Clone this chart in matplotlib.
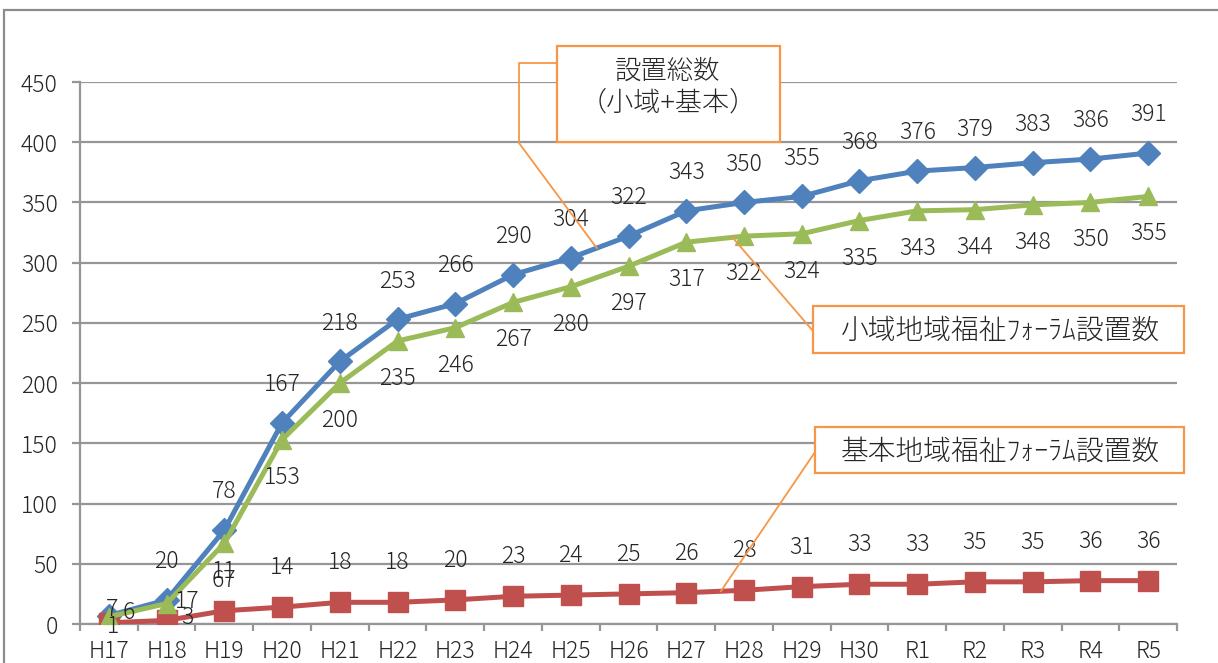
import matplotlib
matplotlib.use("Agg")
import matplotlib.pyplot as plt
import numpy as np
from matplotlib.patches import Rectangle
from matplotlib.lines import Line2D

plt.rcParams['font.family'] = ['Noto Sans CJK JP', 'DejaVu Sans']
plt.rcParams['font.weight'] = 'light'

categories = ["H17", "H18", "H19", "H20", "H21", "H22", "H23", "H24", "H25", "H26",
              "H27", "H28", "H29", "H30", "R1", "R2", "R3", "R4", "R5"]
total = [7, 20, 78, 167, 218, 253, 266, 290, 304, 322, 343, 350, 355, 368, 376, 379, 383, 386, 391]
small = [6, 17, 67, 153, 200, 235, 246, 267, 280, 297, 317, 322, 324, 335, 343, 344, 348, 350, 355]
basic = [1, 3, 11, 14, 18, 18, 20, 23, 24, 25, 26, 28, 31, 33, 33, 35, 35, 36, 36]
yticks = [0, 50, 100, 150, 200, 250, 300, 350, 400, 450]

label_total = "設置総数"
label_total2 = "（小域+基本）"
label_small = "小域地域福祉ﾌｫｰﾗﾑ設置数"
label_basic = "基本地域福祉ﾌｫｰﾗﾑ設置数"

W, H = 1218, 663
fig = plt.figure(figsize=(W / 100, H / 100), dpi=100)

def fx(px):
    return px / W

def fy(py):
    return 1 - py / H

# outer chart border
fig.patches.append(Rectangle((fx(4), -0.1), 1.2, fy(10) + 0.1, transform=fig.transFigure,
                             fill=False, edgecolor="#8c8c8c", linewidth=1.6))

ax = fig.add_axes([fx(80), fy(624), fx(1177) - fx(80), fy(82) - fy(624)])

BLUE = "#4F81BD"
RED = "#C0504D"
GREEN = "#9BBB59"
ORANGE = "#F79646"
GRID = "#969696"
TXT = "#262626"

n = len(categories)
x = np.arange(n)
ax.set_xlim(-0.5, n - 0.5)
ax.set_ylim(0, 450)

for sp in ["top", "right"]:
    ax.spines[sp].set_visible(False)
for sp in ["left", "bottom"]:
    ax.spines[sp].set_color(GRID)
    ax.spines[sp].set_linewidth(1.6)

ax.set_yticks(yticks)
ax.set_yticklabels([str(v) for v in yticks])
ax.yaxis.grid(True, color=GRID, linewidth=1.6)
ax.set_axisbelow(True)
ax.tick_params(axis="y", length=6, width=1.6, color=GRID, pad=10, labelsize=16.5, labelcolor=TXT)

ax.set_xticks(np.arange(-0.5, n, 1.0))
ax.set_xticklabels([])
ax.set_xticks(x, minor=True)
ax.set_xticklabels(categories, minor=True)
ax.tick_params(axis="x", which="major", length=5, width=1.6, color=GRID)
ax.tick_params(axis="x", which="minor", length=0, pad=11, labelsize=16.5, labelcolor=TXT)

lw = 3.6
ax.plot(x, total, color=BLUE, linewidth=lw, marker="D", markersize=12, zorder=3)
ax.plot(x, basic, color=RED, linewidth=lw, marker="s", markersize=14, zorder=4)
ax.plot(x, small, color=GREEN, linewidth=lw, marker="^", markersize=13, zorder=5)

def add_labels(vals, default, overrides):
    for i, v in enumerate(vals):
        dx, dy = overrides.get(i, default)
        ax.annotate(str(v), (x[i], v), xytext=(dx, dy), textcoords="offset points",
                    ha="center", va="center", fontsize=16.5, color=TXT, zorder=6,
                    annotation_clip=False)

add_labels(total, (0, 27.5), {0: (2, 4.5)})
add_labels(small, (0, -27), {0: (14, 3), 1: (15, 1.5)})
add_labels(basic, (0, 28.5), {0: (3, -3), 1: (15, 2)})

# callouts
fig.canvas.draw()
to_fig = ax.transData + fig.transFigure.inverted()

def box(x0, y0, x1, y1):
    fig.patches.append(Rectangle((fx(x0), fy(y1)), fx(x1) - fx(x0), fy(y0) - fy(y1),
                                 transform=fig.transFigure, facecolor="white",
                                 edgecolor=ORANGE, linewidth=1.6, zorder=10))

def leader(points_px, end_data):
    ex, ey = to_fig.transform(end_data)
    xs = [fx(p[0]) for p in points_px] + [ex]
    ys = [fy(p[1]) for p in points_px] + [ey]
    fig.add_artist(Line2D(xs, ys, transform=fig.transFigure, color=ORANGE,
                          linewidth=1.3, zorder=9))

def on_line(vals, xpos):
    return (xpos, float(np.interp(xpos, x, vals)))

# total callout
leader([(557, 63), (519, 63), (519, 143)], on_line(total, 8.45))
box(557, 46, 780, 142)
fig.text(fx(668), fy(71), label_total, ha="center", va="center", fontsize=19, color=TXT, zorder=11)
fig.text(fx(668), fy(102), label_total2, ha="center", va="center", fontsize=19.5, color=TXT, zorder=11)

# small callout
leader([(813, 331)], on_line(small, 10.8))
box(813, 306, 1184, 353)
fig.text(fx(1000), fy(331), label_small, ha="center", va="center", fontsize=20, color=TXT, zorder=11)

# basic callout
leader([(815, 452)], on_line(basic, 10.6))
box(815, 427, 1184, 473)
fig.text(fx(1000), fy(452), label_basic, ha="center", va="center", fontsize=20, color=TXT, zorder=11)

fig.savefig("out.png", dpi=100)
